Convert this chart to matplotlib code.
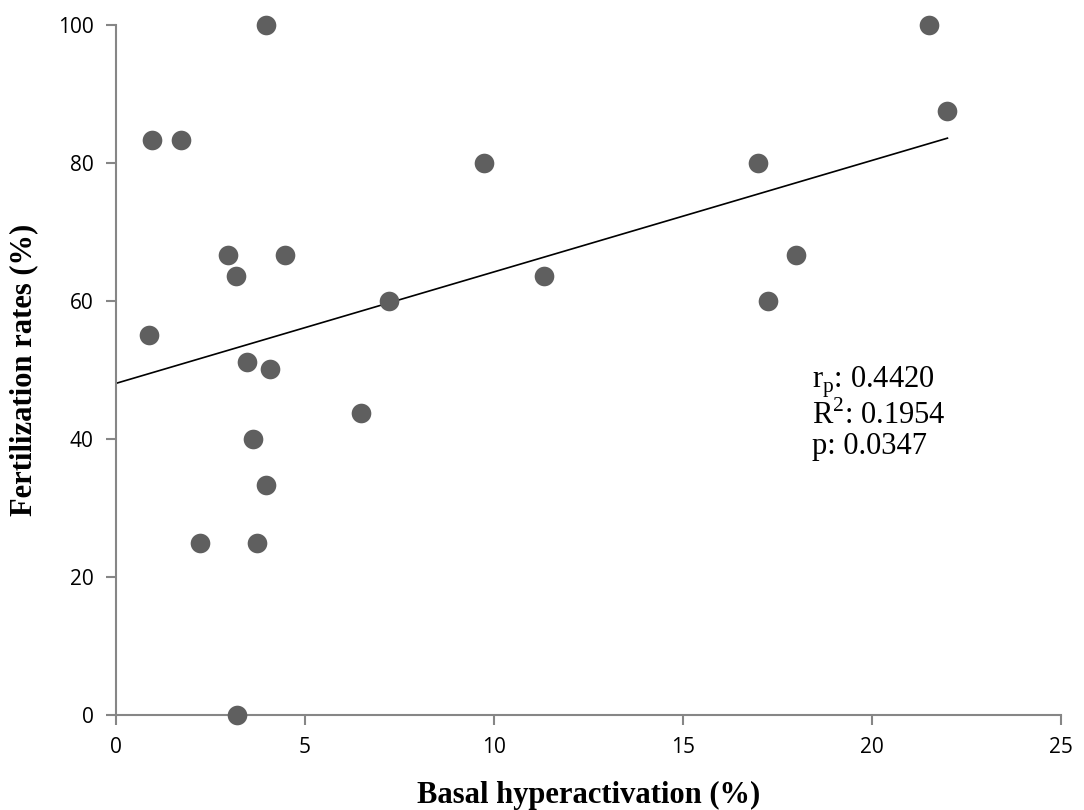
import numpy as np
import matplotlib
matplotlib.use('Agg')
import matplotlib.pyplot as plt

# basal hyperactivation (%) vs fertilization rate (%)
basal = [3.97, 0.96, 1.72, 2.97, 4.47, 3.17, 7.22, 0.87, 3.47, 4.07, 6.48, 3.63,
         3.97, 2.21, 3.72, 3.21, 21.49, 21.99, 16.99, 17.99, 17.24, 9.73, 11.31]
fert = [100, 83.4, 83.4, 66.7, 66.7, 63.7, 60.0, 55.1, 51.2, 50.1, 43.8, 40.0,
        33.3, 25.0, 25.0, 0.0, 100, 87.5, 80.0, 66.7, 60.0, 80.0, 63.7]
x_ticks = [0, 5, 10, 15, 20, 25]
y_ticks = [0, 20, 40, 60, 80, 100]
stats = ['r$_\\mathregular{p}$: 0.4420', 'R$^\\mathregular{2}$: 0.1954', 'p: 0.0347']

plt.rcParams['mathtext.fontset'] = 'custom'
plt.rcParams['mathtext.rm'] = 'Liberation Serif'

grey = '#868686'
fig = plt.figure(figsize=(10.84, 8.10), dpi=100)
ax = fig.add_axes([0.107, 0.117, 0.872, 0.852])

ax.scatter(basal, fert, s=200, color='#5f5f5f', zorder=3, linewidths=0,
           clip_on=False)

# least squares trend line over the data range
k, b = np.polyfit(basal, fert, 1)
xs = np.array([0, max(basal)])
ax.plot(xs, k * xs + b, color='black', lw=1.2, zorder=2)

ax.set_xlim(0, 25)
ax.set_ylim(0, 100)
ax.set_xticks(x_ticks)
ax.set_yticks(y_ticks)
for s in ['top', 'right']:
    ax.spines[s].set_visible(False)
for s in ['left', 'bottom']:
    ax.spines[s].set_color(grey)
    ax.spines[s].set_linewidth(1.5)
ax.tick_params(colors=grey, length=7, width=1.5, labelcolor='black',
               labelsize=15, pad=9)
for lab in ax.get_xticklabels() + ax.get_yticklabels():
    lab.set_family('Open Sans')

ax.set_xlabel('Basal hyperactivation (%)', family='Liberation Serif',
              fontweight='bold', fontsize=22, labelpad=16)
ax.set_ylabel('Fertilization rates (%)', family='Liberation Serif',
              fontweight='bold', fontsize=22, labelpad=14)

for t, yy in zip(stats, [47.5, 42.2, 37.9]):
    ax.text(18.4, yy, t, family='Liberation Serif', fontsize=22, va='baseline')

fig.savefig('out.png', dpi=100)
